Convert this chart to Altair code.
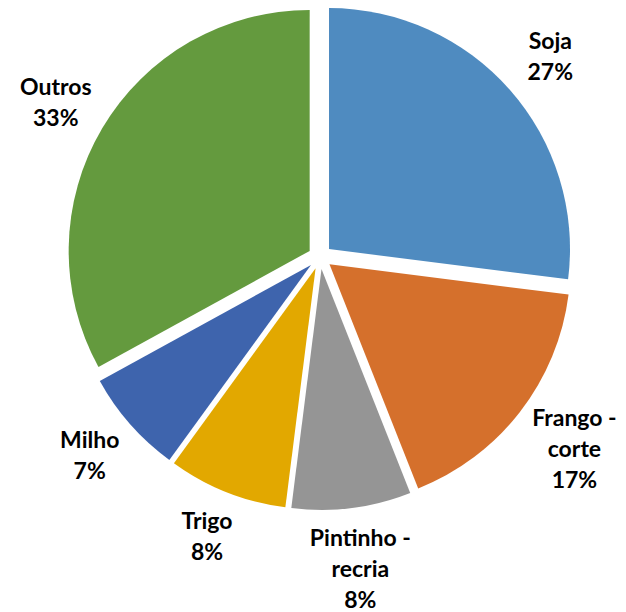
import altair as alt
import pandas as pd

categories = ["Soja", "Frango - corte", "Pintinho - recria", "Trigo", "Milho", "Outros"]
label_names = ["Soja", "Frango -\ncorte", "Pintinho -\nrecria", "Trigo", "Milho", "Outros"]
values = [27, 17, 8, 8, 7, 33]
colors = ["#4F8BC0", "#D5702C", "#959595", "#E2A800", "#3E64AD", "#649A3E"]

df = pd.DataFrame({
    "cat": categories,
    "name": label_names,
    "value": values,
    "order": list(range(len(categories))),
})

CX, CY = 312, 249   # pie centre in view pixels
R = 241             # radius
E = 12              # explode distance
LH = 31             # label line height

base = alt.Chart(df).transform_window(
    cum="sum(value)", sort=[alt.SortField("order")], frame=[None, 0]
).transform_joinaggregate(
    total="sum(value)"
).transform_calculate(
    start="2*PI*(datum.cum - datum.value)/datum.total",
    end="2*PI*datum.cum/datum.total",
).transform_calculate(
    mid="(datum.start + datum.end)/2",
    pct="format(datum.value/datum.total*100, 'd') + '%'",
    nlines="length(split(datum.name, '\\n')) + 1",
).transform_calculate(
    cx=f"{CX} + {E}*sin(datum.mid)",
    cy=f"{CY} - {E}*cos(datum.mid)",
).transform_calculate(
    rx="295 + 15*(datum.nlines - 2)",
    ry="290 + 13*(datum.nlines - 2)",
    label="datum.name + '\\n' + datum.pct",
).transform_calculate(
    lx="datum.cx + datum.rx*sin(datum.mid)",
    ly=f"datum.cy - datum.ry*cos(datum.mid) - (datum.nlines - 1)*{LH}/2",
)

arcs = base.mark_arc(radius=R).encode(
    x=alt.X("cx:Q", scale=None, axis=None),
    y=alt.Y("cy:Q", scale=None, axis=None),
    theta=alt.Theta("start:Q", scale=None),
    theta2="end:Q",
    color=alt.Color("cat:N", scale=alt.Scale(domain=categories, range=colors), legend=None),
)

labels = base.mark_text(
    font="Lato", fontWeight="bold", fontSize=23, lineBreak="\n", lineHeight=LH,
    align="center", baseline="middle", color="#000000",
).encode(
    x=alt.X("lx:Q", scale=None, axis=None),
    y=alt.Y("ly:Q", scale=None, axis=None),
    text="label:N",
)

chart = alt.layer(arcs, labels).properties(
    width=610, height=604, autosize=alt.AutoSizeParams(type="none"), padding=0
).configure_view(stroke=None)

chart.save("out.html", embed_options={"renderer": "svg", "actions": False})
